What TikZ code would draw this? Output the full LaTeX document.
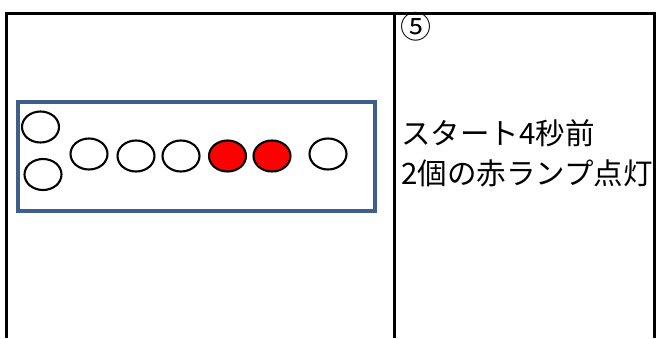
\documentclass[tikz,border=0pt]{standalone}
\usepackage{fontspec}
\newfontfamily\jp{Noto Sans CJK JP}
\usetikzlibrary{shapes.geometric}
\definecolor{frameblue}{HTML}{3E5F8C}
\definecolor{lampred}{HTML}{FF0000}
\begin{document}
\begin{tikzpicture}[x=1pt,y=-1pt,
  tableline/.style={line width=3pt,black},
  lamp/.style={ellipse,draw=black,line width=2.1pt,fill=white,minimum width=37pt,minimum height=31pt,inner sep=0pt},
  redlamp/.style={lamp,fill=lampred},
  label/.style={anchor=base west,inner sep=0pt,font=\jp\fontsize{29.5}{34}\selectfont}]
\useasboundingbox (0,0) rectangle (656,338);
\fill[white] (0,0) rectangle (656,338);
% table
\draw[tableline] (5,13) -- (656,13);
\draw[tableline] (6.5,11.5) -- (6.5,338);
\draw[tableline] (394,11.5) -- (394,338);
\draw[tableline] (654.5,11.5) -- (654.5,338);
% panel frame
\draw[frameblue,line width=4pt] (18,102) rectangle (375,211);
% lamps
\node[lamp] (l1) at (40.5,127) {};
\node[lamp] (l2) at (43,174.5) {};
\node[lamp] (l3) at (89,154) {};
\node[lamp] (l4) at (136,156) {};
\node[lamp] (l5) at (181,156) {};
\node[redlamp] (l6) at (227.5,156) {};
\node[redlamp] (l7) at (272,156) {};
\node[lamp] (l8) at (328,154) {};
% texts
\node[label,font=\jp\fontsize{31}{34}\selectfont] (num) at (400,38) {⑤};
\node[label] (t1) at (401,144) {スタート4秒前};
\node[label] (t2) at (401,184) {2個の赤ランプ点灯};
\end{tikzpicture}
\end{document}
